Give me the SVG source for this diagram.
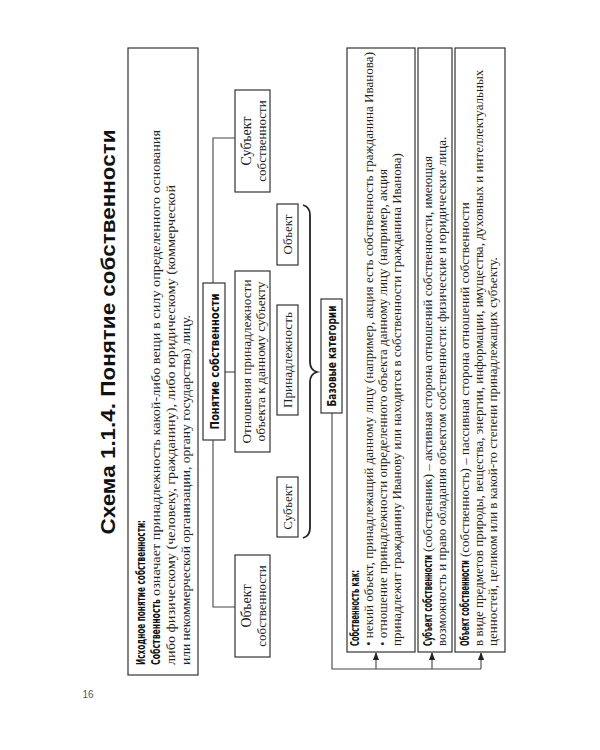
<svg xmlns="http://www.w3.org/2000/svg" width="600" height="750" viewBox="0 0 600 750">
<defs>
<style>
.box{fill:none;stroke:#333;stroke-width:1.2}
.ln{fill:none;stroke:#444;stroke-width:1.1}
.t{font-family:"Liberation Serif","Times New Roman",serif;font-size:13px;fill:#222}
.c{text-anchor:middle}
.b{font-family:"Liberation Sans Narrow","Arial Narrow","DejaVu Sans Condensed","Liberation Sans",sans-serif;font-weight:bold;font-stretch:condensed;font-size:13px;fill:#111}
.title{font-family:"Liberation Sans",Arial,sans-serif;font-weight:bold;font-size:20px;fill:#111}
</style>
<marker id="ar" viewBox="0 0 10 10" refX="9" refY="5" markerWidth="7" markerHeight="7" orient="auto"><path d="M0,1 L10,5 L0,9 z" fill="#222"/></marker>
</defs>
<rect width="600" height="750" fill="#fff"/>
<text x="88" y="698" font-family="Liberation Sans,sans-serif" font-size="10" fill="#555" text-anchor="middle">16</text>
<g transform="translate(0,750) rotate(-90)">
<text class="title c" x="418" y="115" textLength="405" lengthAdjust="spacingAndGlyphs">Схема 1.1.4. Понятие собственности</text>
<g id="intro">
<rect class="box" x="75" y="128" width="627" height="70"/>
<text class="b" x="85" y="145" textLength="145" lengthAdjust="spacingAndGlyphs">Исходное понятие собственности:</text>
<text class="b" x="85" y="160" textLength="66" lengthAdjust="spacingAndGlyphs">Собственность</text>
<text class="t" x="154" y="160" textLength="466" lengthAdjust="spacingAndGlyphs">означает принадлежность какой-либо вещи в силу определенного основания</text>
<text class="t" x="85" y="175" textLength="480" lengthAdjust="spacingAndGlyphs">либо физическому (человеку, гражданину), либо юридическому (коммерческой</text>
<text class="t" x="85" y="190" textLength="350" lengthAdjust="spacingAndGlyphs">или некоммерческой организации, органу государства) лицу.</text>
</g>
<g id="connectors">
<polyline class="ln" points="467,213 612,213 612,235"/>
<polyline class="ln" points="310,213 143,213 143,235"/>
<line class="ln" x1="378" y1="225" x2="378" y2="235"/>
<path d="M212,303 Q214,310 222,310 L368,310 Q376,310 378,317 Q380,310 388,310 L535,310 Q543,310 545,303" fill="none" stroke="#222" stroke-width="1.8"/>
<polyline class="ln" points="337,332 81,332 81,481"/>
<line class="ln" x1="81" y1="376" x2="97" y2="376" marker-end="url(#ar)"/>
<line class="ln" x1="81" y1="432" x2="97" y2="432" marker-end="url(#ar)"/>
<line class="ln" x1="81" y1="481" x2="97" y2="481" marker-end="url(#ar)"/>
</g>
<g id="subj-sobst">
<rect class="box" x="558" y="235" width="102" height="35"/>
<text class="t c" x="609" y="251" style="font-size:14px">Субъект</text>
<text class="t c" x="609" y="266">собственности</text>
</g>
<g id="obj-sobst">
<rect class="box" x="93" y="235" width="102" height="35"/>
<text class="t c" x="144" y="251" style="font-size:14px">Объект</text>
<text class="t c" x="144" y="266">собственности</text>
</g>
<g id="ponyatie">
<rect class="box" x="310" y="203" width="157" height="22"/>
<text class="b c" x="388.5" y="219" textLength="136" lengthAdjust="spacingAndGlyphs">Понятие собственности</text>
</g>
<g id="otnosheniya">
<rect class="box" x="298" y="235" width="181" height="35"/>
<text class="t c" x="388.5" y="251" textLength="164" lengthAdjust="spacingAndGlyphs">Отношения принадлежности</text>
<text class="t c" x="388.5" y="265" textLength="160" lengthAdjust="spacingAndGlyphs">объекта к данному субъекту</text>
</g>
<g id="prinadl">
<rect class="box" x="335" y="277" width="110" height="21"/>
<text class="t c" x="390" y="292" textLength="96" lengthAdjust="spacingAndGlyphs">Принадлежность</text>
</g>
<g id="obj">
<rect class="box" x="485" y="277" width="61" height="21"/>
<text class="t c" x="515.5" y="292">Объект</text>
</g>
<g id="subj">
<rect class="box" x="213" y="277" width="60" height="21"/>
<text class="t c" x="243" y="292">Субъект</text>
</g>
<g id="bazovye">
<rect class="box" x="337" y="321" width="114" height="21"/>
<text class="b c" x="394" y="336" textLength="101" lengthAdjust="spacingAndGlyphs">Базовые категории</text>
</g>
<g id="box-sobst">
<rect class="box" x="98" y="347" width="604" height="68"/>
<text class="b" x="104" y="359" textLength="76" lengthAdjust="spacingAndGlyphs">Собственность как:</text>
<text class="t" x="104" y="373" textLength="594" lengthAdjust="spacingAndGlyphs">• некий объект, принадлежащий данному лицу (например, акция есть собственность гражданина  Иванова)</text>
<text class="t" x="104" y="387">• отношение принадлежности определенного объекта данному лицу (например, акция</text>
<text class="t" x="104" y="401">принадлежит гражданину Иванову или находится в собственности гражданина Иванова)</text>
</g>
<g id="box-subj">
<rect class="box" x="98" y="418" width="604" height="34"/>
<text class="b" x="104" y="432" textLength="91" lengthAdjust="spacingAndGlyphs">Субъект собственности</text>
<text class="t" x="198" y="432">(собственник) – активная сторона отношений собственности, имеющая</text>
<text class="t" x="104" y="446">возможность и право обладания объектом собственности: физические и юридические лица.</text>
</g>
<g id="box-obj">
<rect class="box" x="98" y="455" width="604" height="50"/>
<text class="b" x="104" y="469" textLength="86" lengthAdjust="spacingAndGlyphs">Объект собственности</text>
<text class="t" x="193" y="469">(собственность) – пассивная сторона отношений собственности</text>
<text class="t" x="104" y="483">в виде предметов природы, вещества, энергии, информации, имущества, духовных и интеллектуальных</text>
<text class="t" x="104" y="497">ценностей, целиком или в какой-то степени принадлежащих субъекту.</text>
</g>
</g>
</svg>
